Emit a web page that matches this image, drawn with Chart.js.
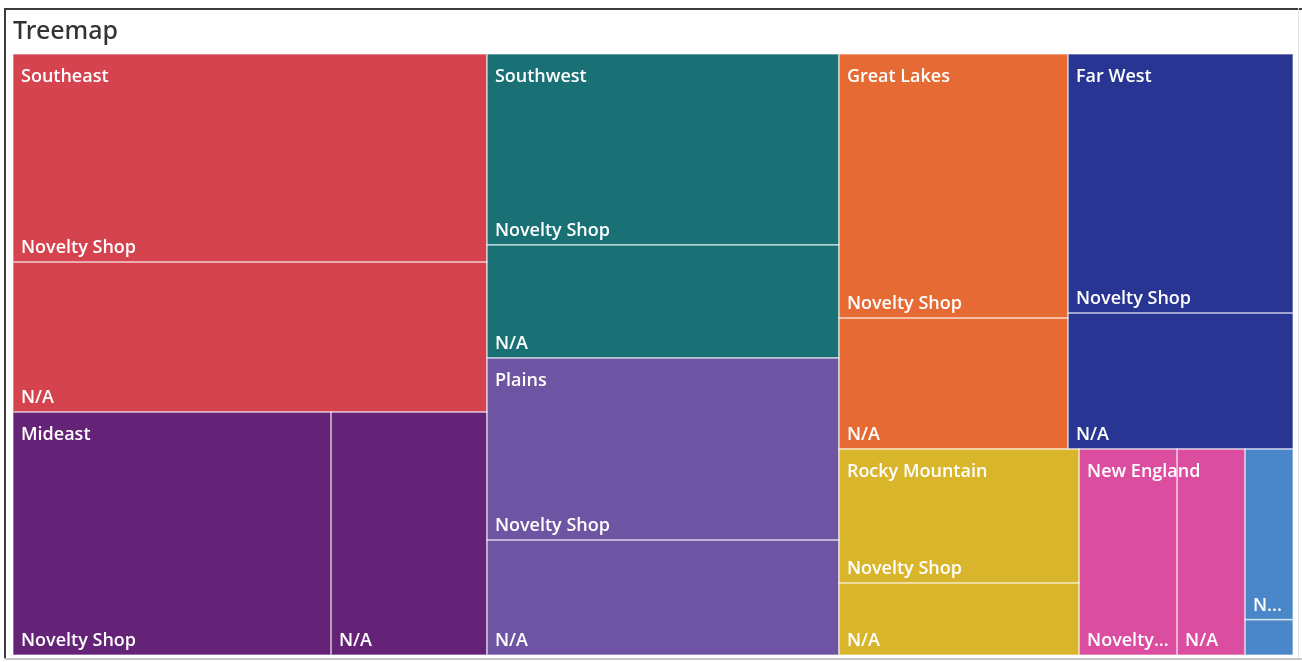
<!DOCTYPE html>
<html>
<head>
<meta charset="utf-8">
<title>Treemap</title>
<script src="https://cdn.jsdelivr.net/npm/chart.js@4/dist/chart.umd.min.js"></script>
<style>
    html, body { margin: 0; padding: 0; background: #fff; }
    #wrap { position: relative; width: 1302px; height: 662px; }
</style>
</head>
<body>
<div id="wrap"><canvas id="treemapChart"></canvas></div>
<script>
// Sales by region, split by store type (in $K)
const regions = ['Southeast', 'Mideast', 'Southwest', 'Plains', 'Great Lakes', 'Far West', 'Rocky Mountain', 'New England', 'Other'];
const storeTypes = ['Novelty Shop', 'N/A'];
const noveltyShop = [98.6, 77.3, 67.2, 64.1, 60.5, 58.3, 32.2, 20.2, 8.2];
const notAvailable = [71.1, 37.9, 39.8, 40.5, 30.0, 30.6, 17.3, 14.0, 1.7];
const regionColors = ['#D5434F', '#652377', '#197176', '#6E55A3', '#E66A34', '#283592', '#D8B52A', '#DA4D9F', '#4A87C8'];

const LABEL_FONT = '600 18px "Open Sans", sans-serif';
const PHI = (1 + Math.sqrt(5)) / 2;

function buildTree() {
    const groups = regions.map((name, i) => {
        const children = [
            { name: storeTypes[0], value: noveltyShop[i] },
            { name: storeTypes[1], value: notAvailable[i] }
        ].sort((a, b) => b.value - a.value);
        return { name, color: regionColors[i], children, value: children.reduce((s, c) => s + c.value, 0) };
    }).sort((a, b) => b.value - a.value);
    return { children: groups, value: groups.reduce((s, g) => s + g.value, 0) };
}

// split a row left-to-right
function dice(nodes, value, x0, y0, x1, y1) {
    const k = value ? (x1 - x0) / value : 0;
    nodes.forEach(n => { n.y0 = y0; n.y1 = y1; n.x0 = x0; n.x1 = x0 += n.value * k; });
}

// split a row top-to-bottom
function slice(nodes, value, x0, y0, x1, y1) {
    const k = value ? (y1 - y0) / value : 0;
    nodes.forEach(n => { n.x0 = x0; n.x1 = x1; n.y0 = y0; n.y1 = y0 += n.value * k; });
}

// squarified layout with golden-ratio bias
function squarify(parent, x0, y0, x1, y1) {
    const nodes = parent.children;
    const n = nodes.length;
    let value = parent.value;
    let i0 = 0, i1 = 0;
    while (i0 < n) {
        const dx = x1 - x0, dy = y1 - y0;
        let sumValue = nodes[i1++].value;
        let minValue = sumValue, maxValue = sumValue;
        const alpha = Math.max(dy / dx, dx / dy) / (value * PHI);
        let beta = sumValue * sumValue * alpha;
        let minRatio = Math.max(maxValue / beta, beta / minValue);
        for (; i1 < n; ++i1) {
            const nodeValue = nodes[i1].value;
            sumValue += nodeValue;
            if (nodeValue < minValue) minValue = nodeValue;
            if (nodeValue > maxValue) maxValue = nodeValue;
            beta = sumValue * sumValue * alpha;
            const newRatio = Math.max(maxValue / beta, beta / minValue);
            if (newRatio > minRatio) { sumValue -= nodeValue; break; }
            minRatio = newRatio;
        }
        const row = nodes.slice(i0, i1);
        if (dx < dy) {
            const yEnd = y0 + dy * sumValue / value;
            dice(row, sumValue, x0, y0, x1, yEnd);
            y0 = yEnd;
        } else {
            const xEnd = x0 + dx * sumValue / value;
            slice(row, sumValue, x0, y0, xEnd, y1);
            x0 = xEnd;
        }
        value -= sumValue;
        i0 = i1;
    }
}

function fitText(ctx, text, maxWidth) {
    if (ctx.measureText(text).width <= maxWidth) return text;
    for (let len = text.length - 1; len > 0; len--) {
        const t = text.slice(0, len).trimEnd() + '...';
        if (ctx.measureText(t).width <= maxWidth) return t;
    }
    return '';
}

const frame = {
    id: 'frame',
    beforeDraw(chart) {
        const { ctx, width, height } = chart;
        ctx.save();
        ctx.fillStyle = '#fff';
        ctx.fillRect(0, 0, width, height);
        ctx.fillStyle = '#3c3c3c';
        ctx.fillRect(4, 8, width - 4, 2);
        ctx.fillRect(4, 8, 2, height - 12);
        ctx.fillStyle = '#c8c8c8';
        ctx.fillRect(4, height - 4, width - 4, 2);
        ctx.fillStyle = '#e4e4e4';
        ctx.fillRect(width - 4, 8, 1, height - 12);
        ctx.restore();
    }
};

const treemap = {
    id: 'treemap',
    beforeDatasetsDraw(chart) {
        const { ctx, chartArea } = chart;
        const xs = chart.scales.x, ys = chart.scales.y;
        const w = chartArea.right - chartArea.left;
        const h = chartArea.bottom - chartArea.top;

        // lay out in pixel proportions, then map through the scales (0..1)
        const root = buildTree();
        squarify(root, 0, 0, w, h);
        root.children.forEach(g => squarify(g, g.x0, g.y0, g.x1, g.y1));

        const px = v => xs.getPixelForValue(v / w);
        const py = v => ys.getPixelForValue(v / h);
        const rect = n => ({ left: px(n.x0), top: py(n.y0), right: px(n.x1), bottom: py(n.y1) });

        ctx.save();
        root.children.forEach(g => {
            g.children.forEach(c => {
                const r = rect(c);
                ctx.fillStyle = g.color;
                ctx.fillRect(r.left, r.top, r.right - r.left, r.bottom - r.top);
            });
        });
        ctx.strokeStyle = 'rgba(255, 255, 255, 0.45)';
        ctx.lineWidth = 1.5;
        root.children.forEach(g => {
            g.children.forEach(c => {
                const r = rect(c);
                ctx.strokeRect(r.left, r.top, r.right - r.left, r.bottom - r.top);
            });
        });

        ctx.font = LABEL_FONT;
        ctx.fillStyle = '#ffffff';
        ctx.textBaseline = 'alphabetic';
        root.children.forEach(g => {
            const gr = rect(g);
            const room = gr.right - gr.left - 16;
            if (ctx.measureText(g.name).width <= room) {
                ctx.fillText(g.name, gr.left + 8, gr.top + 28);
            }
            g.children.forEach(c => {
                const r = rect(c);
                if (r.bottom - r.top < 38) return;
                const label = fitText(ctx, c.name, r.right - r.left - 16);
                if (label) ctx.fillText(label, r.left + 8, r.bottom - 9);
            });
        });
        ctx.restore();
    }
};

new Chart(document.getElementById('treemapChart'), {
    type: 'scatter',
    data: { datasets: [{ data: [] }] },
    options: {
        responsive: true,
        maintainAspectRatio: false,
        animation: false,
        layout: { padding: { left: 13, right: 9, top: 0, bottom: 7 } },
        scales: {
            x: { type: 'linear', min: 0, max: 1, display: false },
            y: { type: 'linear', min: 0, max: 1, reverse: true, display: false }
        },
        plugins: {
            legend: { display: false },
            tooltip: { enabled: false },
            title: {
                display: true,
                text: 'Treemap',
                align: 'start',
                color: '#333333',
                font: { family: '"Noto Sans", sans-serif', size: 25, weight: '500' },
                padding: { top: 17, bottom: 7 }
            }
        }
    },
    plugins: [frame, treemap]
});
</script>
</body>
</html>
